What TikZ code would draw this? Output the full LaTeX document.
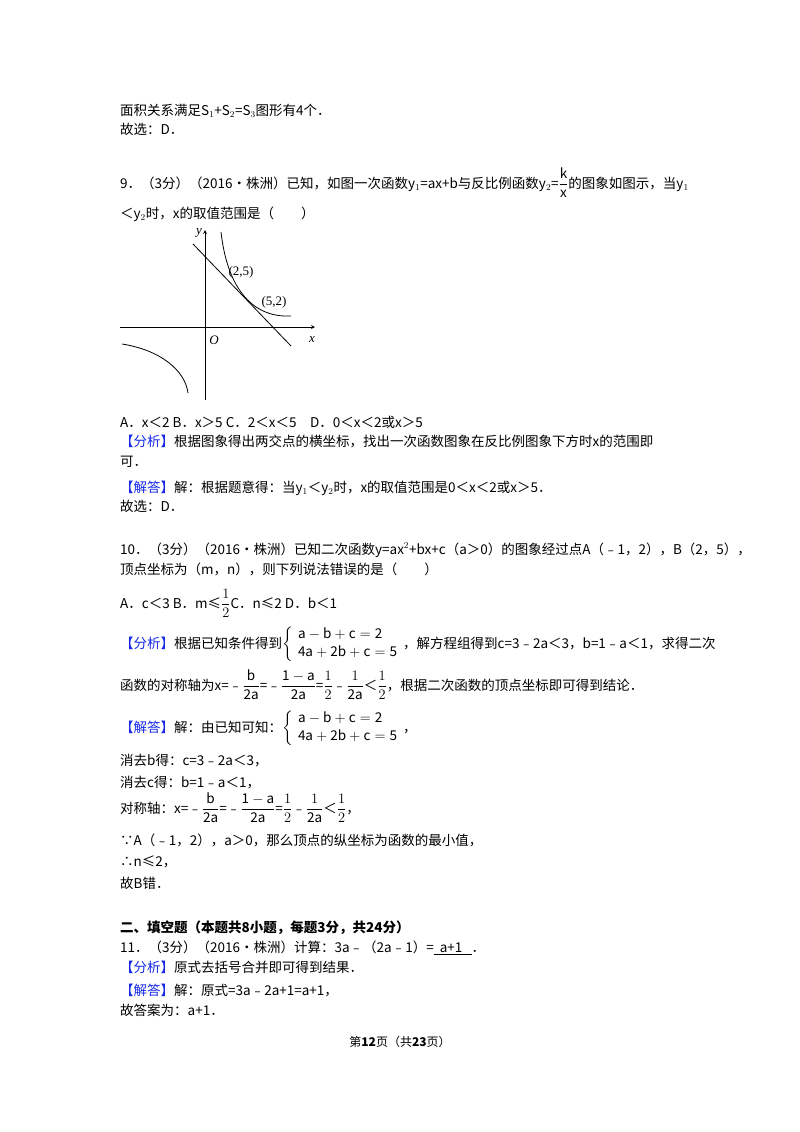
\documentclass[tikz,border=0pt]{standalone}
\usepackage{amsmath}
\usepackage{fontspec}
\setmainfont{Noto Sans CJK SC}
\newfontfamily\lat{Liberation Serif}
\definecolor{fx}{RGB}{20,40,230}
\begin{document}
\begin{tikzpicture}[x=1pt,y=-1pt,
 t/.style={anchor=base west,inner sep=0pt,font=\fontsize{13.5}{16}\selectfont},
 gl/.style={font=\lat\fontsize{13}{15}\selectfont},
 ax/.style={line width=0.8pt,-{stealth}},
 cv/.style={line width=0.8pt}]
\useasboundingbox (0,0) rectangle (800,1132);
\def\FX{\textcolor{fx}{【分析】}}
\def\JD{\textcolor{fx}{【解答】}}
\node[t] (l1) at (120,115) {面积关系满足S$_1$+S$_2$=S$_3$图形有4个．};
\node[t] (l2) at (120,134) {故选：D．};
\node[t] (l3) at (120,188) {9．（3分）（2016•株洲）已知，如图一次函数y$_1$=ax+b与反比例函数y$_2$=$\dfrac{\mathrm{k}}{\mathrm{x}}$的图象如图示，当y$_1$};
\node[t] (l4) at (120,218) {＜y$_2$时，x的取值范围是（　　）};
% graph
\coordinate (xa) at (120,327); \coordinate (xb) at (315,327);
\coordinate (ya) at (205,400); \coordinate (yb) at (205,230);
\draw[ax] (xa) -- (xb);
\draw[ax] (ya) -- (yb);
\node[gl,font=\lat\itshape\fontsize{13}{15}\selectfont] (xl) at (312,340) {x};
\node[gl,font=\lat\itshape\fontsize{13}{15}\selectfont] (yl) at (199,233) {y};
\node[gl,font=\lat\itshape\fontsize{13}{15}\selectfont] (o) at (214,340) {O};
\coordinate (la) at (193,244); \coordinate (lb) at (291,346);
\draw[cv] (la) -- (lb);
\draw[cv] (221,232) .. controls (227,285) and (250,318) .. (291,316);
\draw[cv] (122,344) .. controls (160,350) and (185,370) .. (188,393);
\node[gl] (p1) at (241,272) {(2,5)};
\node[gl] (p2) at (274,302) {(5,2)};
\node[t] (l5) at (120,427) {A．x＜2 B．x＞5 C．2＜x＜5　D．0＜x＜2或x＞5};
\node[t] (l6) at (120,446) {\FX 根据图象得出两交点的横坐标，找出一次函数图象在反比例图象下方时x的范围即};
\node[t] (l7) at (120,466) {可．};
\node[t] (l8) at (120,492) {\JD 解：根据题意得：当y$_1$＜y$_2$时，x的取值范围是0＜x＜2或x＞5．};
\node[t] (l9) at (120,511) {故选：D．};
\node[t] (l10) at (120,554) {10．（3分）（2016•株洲）已知二次函数y=ax$^2$+bx+c（a＞0）的图象经过点A（﹣1，2），B（2，5），};
\node[t] (l11) at (120,574) {顶点坐标为（m，n），则下列说法错误的是（　　）};
\node[t] (l12) at (120,608) {A．c＜3 B．m≤$\dfrac{1}{2}$C．n≤2 D．b＜1};
\node[t] (l13) at (120,648) {\FX 根据已知条件得到$\left\{\begin{array}{l}\mathrm{a-b+c=2}\\[2pt]\mathrm{4a+2b+c=5}\end{array}\right.$，解方程组得到c=3﹣2a＜3，b=1﹣a＜1，求得二次};
\node[t] (l14) at (120,690) {函数的对称轴为x=﹣$\dfrac{\mathrm{b}}{\mathrm{2a}}$=﹣$\dfrac{\mathrm{1-a}}{\mathrm{2a}}$=$\dfrac{1}{2}$﹣$\dfrac{1}{\mathrm{2a}}$＜$\dfrac{1}{2}$，根据二次函数的顶点坐标即可得到结论．};
\node[t] (l15) at (120,732) {\JD 解：由已知可知：$\left\{\begin{array}{l}\mathrm{a-b+c=2}\\[2pt]\mathrm{4a+2b+c=5}\end{array}\right.$，};
\node[t] (l16) at (120,765) {消去b得：c=3﹣2a＜3，};
\node[t] (l17) at (120,787) {消去c得：b=1﹣a＜1，};
\node[t] (l18) at (120,813) {对称轴：x=﹣$\dfrac{\mathrm{b}}{\mathrm{2a}}$=﹣$\dfrac{\mathrm{1-a}}{\mathrm{2a}}$=$\dfrac{1}{2}$﹣$\dfrac{1}{\mathrm{2a}}$＜$\dfrac{1}{2}$，};
\node[t] (l19) at (120,845) {∵A（﹣1，2），a＞0，那么顶点的纵坐标为函数的最小值，};
\node[t] (l20) at (120,866) {∴n≤2，};
\node[t] (l21) at (120,888) {故B错．};
\node[t,font=\fontsize{13.5}{16}\selectfont\bfseries] (l22) at (120,932) {二、填空题（本题共8小题，每题3分，共24分）};
\node[t] (l23) at (120,952) {11．（3分）（2016•株洲）计算：3a﹣（2a﹣1）=\underline{\ \ a+1\ \ \ }．};
\node[t] (l24) at (120,972) {\FX 原式去括号合并即可得到结果．};
\node[t] (l25) at (120,995) {\JD 解：原式=3a﹣2a+1=a+1，};
\node[t] (l26) at (120,1015) {故答案为：a+1．};
\node[anchor=base,inner sep=0pt,font=\fontsize{12}{14}\selectfont] (ft) at (400,1046) {第\textbf{12}页（共\textbf{23}页）};
\end{tikzpicture}
\end{document}
